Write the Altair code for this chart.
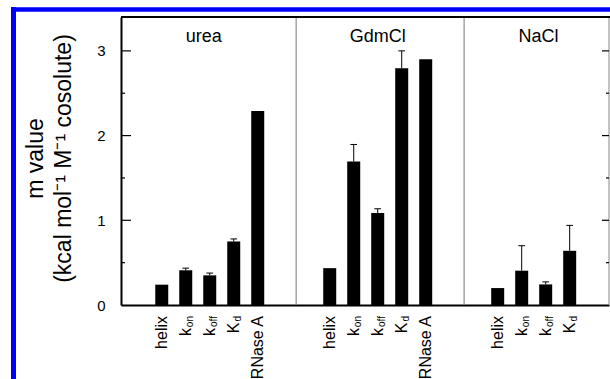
import altair as alt
import pandas as pd

# m values (kcal mol^-1 M^-1 cosolute) and upper error extents
cosolutes = ["urea", "GdmCl", "NaCl"]
items = [
    ["helix", "kon", "koff", "Kd", "RNase A"],
    ["helix", "kon", "koff", "Kd", "RNase A"],
    ["helix", "kon", "koff", "Kd"],
]
urea_m = [0.24, 0.41, 0.35, 0.75, 2.29]
urea_err = [0.0, 0.025, 0.027, 0.03, 0.0]
gdm_m = [0.435, 1.695, 1.086, 2.795, 2.90]
gdm_err = [0.0, 0.20, 0.05, 0.205, 0.0]
nacl_m = [0.20, 0.405, 0.243, 0.64]
nacl_err = [0.0, 0.295, 0.03, 0.30]
y_ticks = [0, 1, 2, 3]
y_minor = [0.5, 1.5, 2.5]

# label text split into main part and subscript
label_parts = {
    "helix": ("helix", ""),
    "kon": ("k", "on"),
    "koff": ("k", "off"),
    "Kd": ("K", "d"),
    "RNase A": ("RNase A", ""),
}

GROUP_STEP = 7          # slots per cosolute group
X_DOMAIN = [-1.49, 18.43]
Y_DOMAIN = [0, 3.4]
W, H = 488, 288
FONT = "Liberation Sans"

values = [urea_m, gdm_m, nacl_m]
errors = [urea_err, gdm_err, nacl_err]
rows = []
for g, name in enumerate(cosolutes):
    for i, item in enumerate(items[g]):
        main, sub = label_parts[item]
        rows.append({
            "cosolute": name,
            "item": item,
            "pos": g * GROUP_STEP + i,
            "m": values[g][i],
            "err": errors[g][i],
            "top": values[g][i] + errors[g][i],
            "main": main,
            "sub": sub,
        })
df = pd.DataFrame(rows)

panel_df = pd.DataFrame({
    "cosolute": cosolutes,
    "cx": [1.75, 9.0, 15.7],
})
divider_df = pd.DataFrame({"bx": [g * GROUP_STEP - 1.4 for g in (1, 2)]})
major_df = pd.DataFrame({"v": y_ticks[1:]})
minor_df = pd.DataFrame({"v": y_minor})
one_df = pd.DataFrame({"a": [0]})

xs = alt.Scale(domain=X_DOMAIN, nice=False, zero=False)
ys = alt.Scale(domain=Y_DOMAIN, nice=False)

# one axis definition per channel, shared by every layer
XAX = alt.Axis(labels=False, ticks=False, grid=False, title=None,
               domainColor="black", domainWidth=2)
YAX = alt.Axis(values=y_ticks, ticks=False, grid=False,
               domainColor="black", domainWidth=2,
               labelFont=FONT, labelFontSize=15, labelColor="black",
               labelPadding=16,
               title=["m value", "(kcal mol\u207b\u00b9 M\u207b\u00b9 cosolute)"],
               titleFont=FONT, titleFontSize=23, titleFontWeight="normal",
               titleColor="black", titleLineHeight=28,
               titleAngle=270, titleAlign="center",
               titleBaseline="alphabetic",
               titleX=-79, titleY=141)


def X(field):
    return alt.X(field, scale=xs, axis=XAX)


def Y(field):
    return alt.Y(field, scale=ys, axis=YAX)


base = alt.Chart(df)

bars = base.mark_bar(color="black", size=13).encode(x=X("pos:Q"), y=Y("m:Q"))

with_err = base.transform_filter("datum.err > 0")
err_lines = with_err.mark_rule(color="black", strokeWidth=1).encode(
    x=X("pos:Q"), y=Y("m:Q"), y2="top:Q",
)
caps = with_err.transform_calculate(
    lo="datum.pos - 0.14", hi="datum.pos + 0.14"
).mark_rule(color="black", strokeWidth=1).encode(
    x=X("lo:Q"), x2="hi:Q", y=Y("top:Q"),
)

label_style = dict(font=FONT, color="black", angle=270, align="right",
                   baseline="middle")
label_y = alt.value(299)
plain_labels = base.transform_filter("datum.sub == ''").mark_text(
    fontSize=16, **label_style
).encode(x=X("pos:Q"), y=label_y, text="main:N")
k_long = base.transform_filter("datum.sub == 'on' || datum.sub == 'off'").mark_text(
    fontSize=16, dx=-12, **label_style
).encode(x=X("pos:Q"), y=label_y, text="main:N")
k_short = base.transform_filter("datum.sub == 'd'").mark_text(
    fontSize=16, dx=-6.5, **label_style
).encode(x=X("pos:Q"), y=label_y, text="main:N")
subs = base.transform_filter("datum.sub != ''").mark_text(
    fontSize=10, dy=4, **label_style
).encode(x=X("pos:Q"), y=label_y, text="sub:N")

panel_titles = alt.Chart(panel_df).mark_text(
    font=FONT, fontSize=18, color="black", baseline="alphabetic", align="center"
).encode(x=X("cx:Q"), y=alt.value(25), text="cosolute:N")

dividers = alt.Chart(divider_df).mark_rule(color="#777777", strokeWidth=1).encode(
    x=X("bx:Q")
)

top_border = alt.Chart(one_df).mark_rule(color="black", strokeWidth=2).encode(
    x=alt.value(0), x2=alt.value(W + 2), y=alt.value(0)
)
right_border = alt.Chart(one_df).mark_rule(color="#888888", strokeWidth=1).encode(
    x=alt.value(W), y=alt.value(0), y2=alt.value(H)
)

tick_style = dict(color="black", strokeWidth=1.2)
left_major = alt.Chart(major_df).mark_rule(**tick_style).encode(
    y=Y("v:Q"), x=alt.value(0), x2=alt.value(10))
left_minor = alt.Chart(minor_df).mark_rule(**tick_style).encode(
    y=Y("v:Q"), x=alt.value(0), x2=alt.value(4))
right_major = alt.Chart(major_df).mark_rule(**tick_style).encode(
    y=Y("v:Q"), x=alt.value(W - 7), x2=alt.value(W))
right_minor = alt.Chart(minor_df).mark_rule(**tick_style).encode(
    y=Y("v:Q"), x=alt.value(W - 3), x2=alt.value(W))

# blue frame along the left and top edges of the figure
frame_left = alt.Chart(one_df).mark_rule(color="#0000ff", strokeWidth=5).encode(
    x=alt.value(-107.5), y=alt.value(-10), y2=alt.value(H + 74)
)
frame_top = alt.Chart(one_df).mark_rule(color="#0000ff", strokeWidth=4.5).encode(
    y=alt.value(-7.5), x=alt.value(-110), x2=alt.value(W + 1)
)

chart = alt.layer(
    frame_left, frame_top, dividers, right_border, top_border,
    bars, err_lines, caps,
    left_major, left_minor, right_major, right_minor,
    plain_labels, k_long, k_short, subs, panel_titles,
).properties(
    width=W, height=H,
    autosize=alt.AutoSizeParams(type="none"),
    padding={"left": 121, "top": 17, "right": 1, "bottom": 74},
    background="white",
).configure_view(strokeWidth=0)

chart.save("out.html", embed_options={"renderer": "svg", "actions": False})
